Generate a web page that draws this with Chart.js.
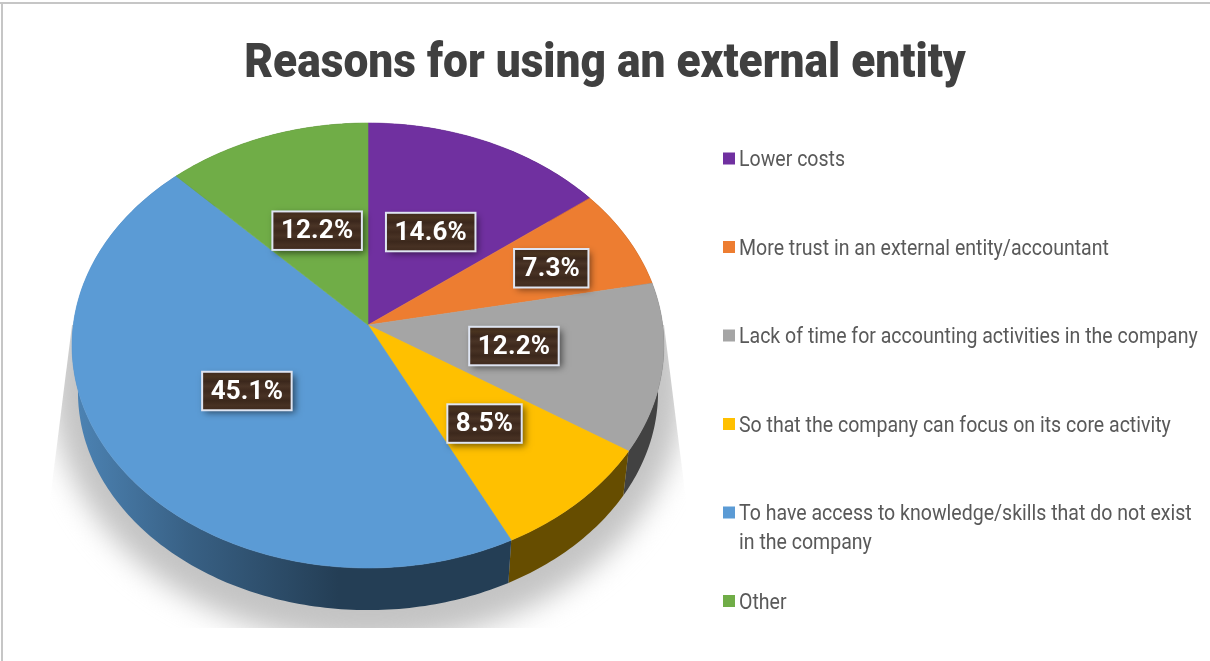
<!DOCTYPE html>
<html>
<head>
<meta charset="utf-8">
<title>Reasons for using an external entity</title>
<script src="https://cdn.jsdelivr.net/npm/chart.js@4"></script>
<style>
    html, body { margin: 0; padding: 0; background: #fff; }
    canvas { display: block; }
</style>
</head>
<body>
<canvas id="reasonsChart" width="1210" height="661"></canvas>
<script>
const chartTitle = 'Reasons for using an external entity';
const categories = [
    'Lower costs',
    'More trust in an external entity/accountant',
    'Lack of time for accounting activities in the company',
    'So that the company can focus on its core activity',
    'To have access to knowledge/skills that do not exist in the company',
    'Other'
];
const shares = [14.6, 7.3, 12.2, 8.5, 45.1, 12.2];
const sliceColors = ['#7030a0', '#ed7d31', '#a5a5a5', '#ffc000', '#5b9bd5', '#70ad47'];

const FONT = 'Roboto, sans-serif';

// tilted disc: the unit circle goes through a perspective projection
const disc = { cx: 368, cy: 325, ax: 294.7, ay: 220.6, persp: 0.0921, depth: 47, shrink: 0.98 };

function project(angle, r) {
    const u = Math.cos(angle) * r;
    const v = Math.sin(angle) * r;
    const w = 1 - disc.persp * v;
    return { x: disc.cx + disc.ax * u / w, y: disc.cy + disc.ay * v / w };
}

function lowerRim(p) {
    return {
        x: disc.cx + (p.x - disc.cx) * disc.shrink,
        y: disc.cy + (p.y - disc.cy) * disc.shrink + disc.depth
    };
}

function rimPoints(start, end) {
    const steps = Math.max(2, Math.ceil((end - start) * 60));
    const pts = [];
    for (let i = 0; i <= steps; i++) {
        pts.push(project(start + (end - start) * i / steps, 1));
    }
    return pts;
}

function shade(hex, f) {
    const n = parseInt(hex.slice(1), 16);
    return `rgb(${((n >> 16) & 255) * f}, ${((n >> 8) & 255) * f}, ${(n & 255) * f})`;
}

// only wide fonts are around, so squeeze the text horizontally
function narrowText(ctx, text, x, y, squeeze) {
    ctx.save();
    ctx.translate(x, y);
    ctx.scale(squeeze, 1);
    ctx.fillText(text, 0, 0);
    ctx.restore();
}

const pie3d = {
    id: 'pie3d',
    beforeDraw(chart, args, opts) {
        const ctx = chart.ctx;
        ctx.save();
        ctx.fillStyle = '#ffffff';
        ctx.fillRect(0, 0, chart.width, chart.height);
        ctx.fillStyle = '#c6c6c6';
        ctx.fillRect(0, 2, chart.width, 2);
        ctx.fillRect(1, 2, 2, chart.height);

        ctx.fillStyle = '#404040';
        ctx.font = '900 48px ' + FONT;
        ctx.textAlign = 'center';
        ctx.textBaseline = 'alphabetic';
        narrowText(ctx, chartTitle, 605, 77, opts.titleSqueeze);
        ctx.restore();
    },
    beforeDatasetsDraw(chart) {
        const ctx = chart.ctx;
        const arcs = chart.getDatasetMeta(0).data;

        // soft ground shadow, cut off by the shadow's own box
        ctx.save();
        ctx.beginPath();
        ctx.moveTo(72, 325);
        ctx.lineTo(50, 500);
        ctx.lineTo(50, 628);
        ctx.lineTo(686, 628);
        ctx.lineTo(686, 500);
        ctx.lineTo(664, 325);
        ctx.closePath();
        ctx.clip();
        ctx.filter = 'blur(14px)';
        ctx.fillStyle = '#c4c4c4';
        ctx.beginPath();
        ctx.ellipse(368, 385, 316, 258, 0, 0, Math.PI * 2);
        ctx.fill();
        ctx.restore();

        // outer wall
        arcs.forEach((arc, i) => {
            const rim = rimPoints(arc.startAngle, arc.endAngle);
            const grad = ctx.createLinearGradient(72, 0, 664, 0);
            grad.addColorStop(0, shade(sliceColors[i], 0.85));
            grad.addColorStop(0.2, shade(sliceColors[i], 0.62));
            grad.addColorStop(0.45, shade(sliceColors[i], 0.4));
            grad.addColorStop(1, shade(sliceColors[i], 0.4));
            ctx.fillStyle = grad;
            ctx.beginPath();
            rim.forEach((p, n) => n ? ctx.lineTo(p.x, p.y) : ctx.moveTo(p.x, p.y));
            rim.slice().reverse().map(lowerRim).forEach(p => ctx.lineTo(p.x, p.y));
            ctx.closePath();
            ctx.fill();
        });

        // top face
        arcs.forEach((arc, i) => {
            ctx.fillStyle = sliceColors[i];
            ctx.strokeStyle = sliceColors[i];
            ctx.lineWidth = 0.6;
            ctx.beginPath();
            ctx.moveTo(disc.cx, disc.cy);
            rimPoints(arc.startAngle, arc.endAngle).forEach(p => ctx.lineTo(p.x, p.y));
            ctx.closePath();
            ctx.fill();
            ctx.stroke();
        });
        return false;
    },
    afterDraw(chart, args, opts) {
        const ctx = chart.ctx;
        const arcs = chart.getDatasetMeta(0).data;

        // value boxes
        arcs.forEach((arc, i) => {
            const mid = (arc.startAngle + arc.endAngle) / 2;
            const pos = project(mid, opts.labelRadius[i]);
            pos.y += opts.labelNudge[i];
            const text = shares[i].toFixed(1) + '%';
            ctx.save();
            ctx.font = 'bold 26px ' + FONT;
            ctx.letterSpacing = '0.2px';
            const w = ctx.measureText(text).width + 17;
            const h = 38.5;
            const x = pos.x - w / 2;
            const y = pos.y - h / 2;

            ctx.shadowColor = 'rgba(0, 0, 0, 0.55)';
            ctx.shadowBlur = 7;
            ctx.shadowOffsetX = 3;
            ctx.shadowOffsetY = 3;
            ctx.fillStyle = '#3f2a1e';
            ctx.fillRect(x, y, w, h);
            ctx.shadowColor = 'transparent';

            const grain = ctx.createLinearGradient(0, y, 0, y + h);
            ['#3f2a1e', '#49331f', '#3b271c', '#4a3426', '#3e291d', '#483224', '#3c281c', '#473123', '#3f2a1e'].forEach((c, n, all) => {
                grain.addColorStop(n / (all.length - 1), c);
            });
            ctx.fillStyle = grain;
            ctx.fillRect(x, y, w, h);

            ctx.strokeStyle = '#dfe5f2';
            ctx.lineWidth = 2;
            ctx.strokeRect(x, y, w, h);

            ctx.fillStyle = '#ffffff';
            ctx.textAlign = 'center';
            ctx.textBaseline = 'middle';
            ctx.fillText(text, pos.x, pos.y + 1);
            ctx.restore();
        });

        // legend column with wrapped labels
        ctx.save();
        ctx.font = opts.legendFont;
        ctx.textBaseline = 'middle';
        chart.data.labels.forEach((label, i) => {
            const y = opts.legendTop + opts.legendStep * i;
            ctx.fillStyle = sliceColors[i];
            ctx.fillRect(723, y - 6, 12, 12);
            ctx.fillStyle = '#595959';
            let line = '';
            let ly = y;
            label.split(' ').forEach(word => {
                const next = line ? line + ' ' + word : word;
                if (ctx.measureText(next).width * opts.legendSqueeze > opts.legendWidth) {
                    narrowText(ctx, line, 739, ly + 2, opts.legendSqueeze);
                    line = word;
                    ly += 29;
                } else {
                    line = next;
                }
            });
            narrowText(ctx, line, 739, ly + 2, opts.legendSqueeze);
        });
        ctx.restore();
    }
};

new Chart(document.getElementById('reasonsChart').getContext('2d'), {
    type: 'pie',
    data: {
        labels: categories,
        datasets: [{ data: shares, backgroundColor: sliceColors, borderWidth: 0 }]
    },
    options: {
        responsive: false,
        animation: false,
        plugins: {
            legend: { display: false },
            tooltip: { enabled: false },
            title: { display: false },
            pie3d: {
                titleSqueeze: 0.922,
                labelRadius: [0.5, 0.7, 0.5, 0.57, 0.49, 0.48],
                labelNudge: [2, 5, 0, 1, 2, 0],
                legendFont: '22.5px ' + FONT,
                legendSqueeze: 0.868,
                legendTop: 158.5,
                legendStep: 88.5,
                legendWidth: 466
            }
        }
    },
    plugins: [pie3d]
});
</script>
</body>
</html>
